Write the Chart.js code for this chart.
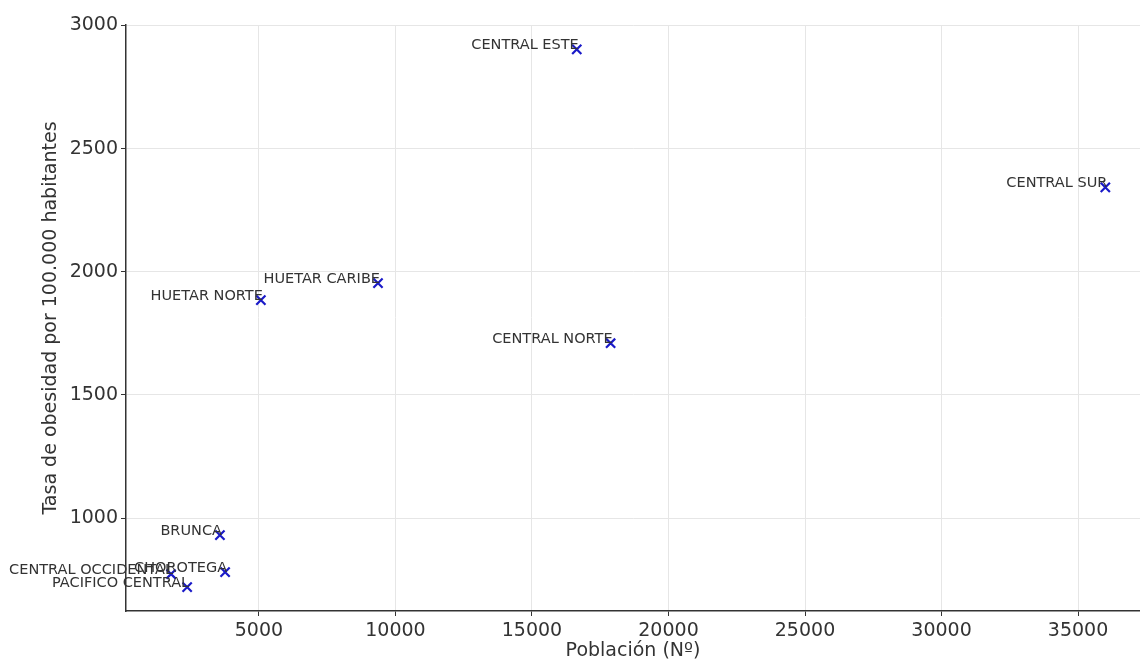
<!DOCTYPE html>
<html>
<head>
<meta charset="utf-8">
<script src="https://cdn.jsdelivr.net/npm/chart.js@4.4.0/dist/chart.umd.min.js"></script>
<style>
  html, body { margin: 0; padding: 0; background: #fff; }
  #wrap { width: 1140px; height: 661px; }
</style>
</head>
<body>
<div id="wrap"><canvas id="myChart" width="1140" height="661"></canvas></div>
<script>
// regiones y valores
const regiones = [
  "CENTRAL ESTE", "CENTRAL SUR", "HUETAR CARIBE", "HUETAR NORTE",
  "CENTRAL NORTE", "BRUNCA", "CHOROTEGA", "CENTRAL OCCIDENTAL", "PACIFICO CENTRAL"
];
const poblacion = [16640, 36000, 9360, 5070, 17880, 3570, 3760, 1780, 2370];
const tasaObesidad = [2903, 2343, 1954, 1885, 1710, 931, 781, 773, 720];

const xTicks = [5000, 10000, 15000, 20000, 25000, 30000, 35000];
const yTicks = [1000, 1500, 2000, 2500, 3000];

const puntos = poblacion.map((p, i) => ({ x: p, y: tasaObesidad[i] }));

// etiqueta de texto a la izquierda de cada punto
const etiquetas = {
  id: "etiquetas",
  afterDatasetsDraw(chart) {
    const ctx = chart.ctx;
    const meta = chart.getDatasetMeta(0);
    ctx.save();
    ctx.font = "14.5px 'DejaVu Sans'";
    ctx.fillStyle = "#333";
    ctx.textAlign = "right";
    ctx.textBaseline = "alphabetic";
    meta.data.forEach((el, i) => {
      ctx.fillText(regiones[i], el.x + 2, el.y);
    });
    ctx.restore();
  }
};

const config = {
  type: "scatter",
  data: {
    datasets: [{
      label: "Regiones",
      data: puntos,
      pointStyle: "crossRot",
      pointRadius: 6.5,
      pointHoverRadius: 6.5,
      borderColor: "#1a1ac8",
      backgroundColor: "#1a1ac8",
      borderWidth: 2.2
    }]
  },
  options: {
    responsive: false,
    animation: false,
    layout: { autoPadding: false, padding: { left: 0, right: 0, top: 25, bottom: 0 } },
    plugins: {
      legend: { display: false },
      tooltip: { enabled: false }
    },
    scales: {
      x: {
        type: "linear",
        min: 130,
        max: 37270,
        afterBuildTicks: (s) => { s.ticks = xTicks.map(v => ({ value: v })); },
        afterFit: (s) => { s.height = 50; },
        ticks: {
          color: "#333",
          font: { family: "DejaVu Sans", size: 19 },
          padding: 4,
          maxRotation: 0,
          callback: (v) => String(v)
        },
        grid: { color: "#e6e6e6", tickColor: "#333", tickLength: 5 },
        border: { color: "#333", width: 1.5 },
        title: {
          display: true,
          text: "Población (Nº)",
          color: "#333",
          font: { family: "DejaVu Sans", size: 19, lineHeight: 1.0 },
          padding: { top: 0, bottom: 0 }
        }
      },
      y: {
        type: "linear",
        min: 623,
        max: 3002,
        afterBuildTicks: (s) => { s.ticks = yTicks.map(v => ({ value: v })); },
        afterFit: (s) => { s.width = 126; },
        ticks: {
          color: "#333",
          font: { family: "DejaVu Sans", size: 19 },
          padding: 3,
          callback: (v) => String(v)
        },
        grid: { color: "#e6e6e6", tickColor: "#333", tickLength: 5 },
        border: { color: "#333", width: 1.5 },
        title: {
          display: true,
          text: "Tasa de obesidad por 100.000 habitantes",
          color: "#333",
          font: { family: "DejaVu Sans", size: 19, lineHeight: 1.0 },
          padding: { top: 42, bottom: 0 }
        }
      }
    }
  },
  plugins: [etiquetas]
};

new Chart(document.getElementById("myChart"), config);
</script>
</body>
</html>
